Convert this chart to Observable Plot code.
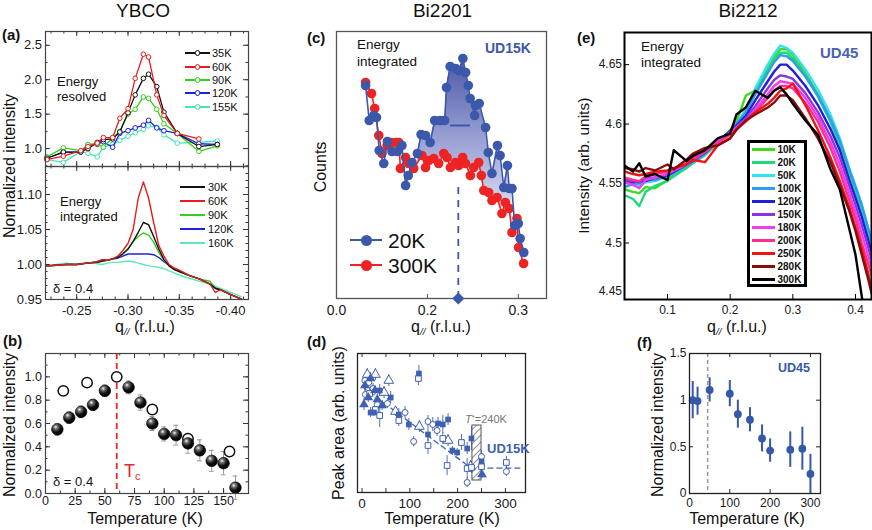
<!DOCTYPE html>
<html><head><meta charset="utf-8">
<script src="https://cdn.jsdelivr.net/npm/d3@7"></script>
<script src="https://cdn.jsdelivr.net/npm/@observablehq/plot@0.6"></script>
<style>
html,body{margin:0;padding:0;background:#fff;}
#fig{position:relative;width:872px;height:530px;overflow:hidden;background:#fff;font-family:'Liberation Sans',Arial,Helvetica,sans-serif;color:#111;}
#fig sub{font-size:0.62em;vertical-align:-0.3em;line-height:0;}
#fig sup{font-size:0.7em;vertical-align:0.35em;line-height:0;}
</style></head><body><div id="fig"></div>
<script>
// ================= DATA =================
// (a) YBCO energy resolved
const aResQ = [-0.221,-0.237,-0.254,-0.261,-0.270,-0.276,-0.285,-0.292,-0.300,-0.307,-0.315,-0.320,-0.328,-0.335,-0.348,-0.369,-0.387];
const aResLabels = ["35K","60K","90K","120K","155K"];
const aResColors = ["#111111","#e81c1c","#33d11f","#1f1fe0","#46e6b4"];
const aRes35K  = [0.86,0.95,0.95,1.00,1.09,1.13,1.14,1.24,1.52,1.78,2.02,2.08,1.90,1.53,1.22,1.03,1.06];
const aRes60K  = [0.84,0.89,0.97,1.03,1.08,1.16,1.16,1.44,1.58,2.02,2.37,2.33,1.78,1.48,1.22,1.14,null];
const aRes90K  = [0.88,1.01,0.97,1.06,1.07,1.02,1.16,1.25,1.50,1.57,1.75,1.73,1.57,1.36,1.22,0.96,1.04];
const aRes120K = [0.86,0.95,0.95,1.05,1.06,1.10,1.02,1.22,1.26,1.30,1.34,1.41,1.30,1.26,1.22,1.07,1.06];
const aRes155K = [0.84,0.80,0.96,0.93,0.88,1.02,1.06,1.12,1.18,1.23,1.28,1.33,1.31,1.20,1.08,1.09,1.11];
const aResValues = [aRes35K,aRes60K,aRes90K,aRes120K,aRes155K];

// (a) YBCO energy integrated
const aIntQ = [-0.221,-0.23,-0.24,-0.25,-0.26,-0.27,-0.275,-0.28,-0.285,-0.29,-0.295,-0.30,-0.305,-0.31,-0.315,-0.32,-0.325,-0.33,-0.335,-0.34,-0.345,-0.35,-0.36,-0.37,-0.38,-0.385,-0.39,-0.40,-0.41];
const aIntLabels = ["30K","60K","90K","120K","160K"];
const aIntColors = ["#111111","#e81c1c","#33d11f","#1f1fe0","#5ee8b8"];
const aInt30K  = [0.998,0.999,1.000,1.000,1.002,1.003,1.005,1.006,1.008,1.010,1.015,1.022,1.033,1.046,1.060,1.057,1.040,1.022,1.007,0.998,0.993,0.990,0.984,0.979,0.972,0.966,0.964,0.957,0.951];
const aInt60K  = [0.998,0.999,1.000,1.000,1.002,1.004,1.007,1.006,1.008,1.012,1.020,1.030,1.050,1.095,1.118,1.095,1.060,1.027,1.012,1.000,0.995,0.992,0.984,0.979,0.972,0.960,0.964,0.957,0.951];
const aInt90K  = [0.998,0.999,1.000,1.000,1.002,1.003,1.005,1.006,1.008,1.010,1.016,1.022,1.033,1.040,1.045,1.042,1.032,1.017,1.006,0.998,0.993,0.990,0.984,0.979,0.976,0.966,0.964,0.957,0.951];
const aInt120K = [0.998,0.999,1.000,1.000,1.002,1.004,1.007,1.006,1.008,1.009,1.012,1.015,1.015,1.015,1.015,1.015,1.014,1.010,1.004,0.999,0.993,0.990,0.984,0.979,0.972,0.966,0.964,0.957,0.951];
const aInt160K = [0.998,1.000,1.002,1.000,1.003,1.001,1.000,1.002,1.003,1.003,1.004,1.005,1.004,1.002,1.000,0.998,0.997,0.996,0.994,0.991,0.988,0.985,0.980,0.976,0.972,0.969,0.966,0.960,0.954];
const aIntValues = [aInt30K,aInt60K,aInt90K,aInt120K,aInt160K];

// (b) YBCO temperature dependence
const bFilledT = [10,20,30,40,50,70,80,90,100,110,120,130,140,150,160];
const bFilledV = [0.55,0.65,0.70,0.76,0.88,0.91,0.78,0.60,0.51,0.50,0.43,0.37,0.28,0.26,0.05];
const bFilledE = [0.05,0.05,0.05,0.045,0.05,0.055,0.065,0.06,0.06,0.085,0.085,0.09,0.09,0.10,0.10];
const bOpenT = [15,35,60,90,120,155];
const bOpenV = [0.88,0.95,1.00,0.72,0.47,0.36];
const bTc = 60;

// (c) Bi2201 energy integrated (counts, arb.)
const cBlueQ = [0.132,0.136,0.141,0.144,0.147,0.152,0.156,0.161,0.167,0.172,0.176,0.179,0.183,0.189,0.193,0.198,0.203,0.208,0.214,0.219,0.221,0.225,0.231,0.235,0.239,0.242,0.245,0.247,0.252,0.253,0.257,0.264,0.267,0.271,0.277,0.280,0.284,0.288,0.290,0.293,0.296,0.300,0.302,0.306];
const cBlueC = [213,178,183,181,148,135,157,147,147,153,113,123,136,145,164,163,156,178,178,178,211,232,230,228,240,226,213,200,183,193,195,171,146,125,153,143,111,133,110,110,73,75,60,46];
const cRedQ = [0.132,0.1385,0.142,0.1465,0.150,0.1557,0.1604,0.1656,0.1685,0.1703,0.176,0.1795,0.185,0.194,0.198,0.2015,0.207,0.2124,0.218,0.2216,0.2253,0.2308,0.2344,0.2388,0.2418,0.2473,0.251,0.2564,0.2593,0.262,0.2674,0.271,0.2766,0.282,0.2857,0.290,0.293,0.2985,0.3003,0.3058];
const cRedC = [216,205,190,163,145,153,156,156,156,130,141,135,130,143,131,138,140,135,145,141,131,136,133,141,135,123,131,136,123,108,106,98,101,85,96,90,66,80,51,35];
const cShadeRange = [0.189, 0.293];
const cFWHM = {q1: 0.2253, q2: 0.2473, c: 173};
const cPeak = {q: 0.234, c: 0, top: 113};
const cTickValues = [0.1, 0.2, 0.3];
const cTickLabels = ["0.0", "0.2", "0.3"];

// (d) Bi2201 peak area vs T  [T, area, error]
const dFilledSq  = [[18,80,5],[25,80,4],[37,102,6],[60,95,6],[77,78,6],[98,68,6],[119,119,8],[138,58,7],[159,69,6],[169,68,9],[180,73,6],[189,42,4],[199,40,4],[220,44,6],[229,54,12],[250,31,6]];
const dOpenSq    = [[16,99,6],[28,83,6],[37,77,12],[77,72,6],[118,114,7],[138,47,9],[169,54,6],[178,27,10],[208,50,8],[220,24,10],[229,25,6],[250,26,7],[302,30,6]];
const dFilledTri = [[4,88,6],[6,107,6],[13,95,5],[18,114,6],[27,102,5],[32,93,5],[42,87,5],[251,18,4]];
const dOpenTri   = [[11,118,6],[28,118,6],[46,100,6],[56,112,6],[70,81,5],[120,66,6],[180,52,6],[227,26,6]];
const dOpenCirc  = [[6,112,6],[7,98,5],[14,110,5],[23,104,5],[32,88,5],[53,89,5],[90,80,6],[108,51,5],[138,71,6],[148,68,7],[157,62,6],[220,10,5],[250,36,6],[302,21,5]];
const dGuide = [[0,106],[228,24.4],[338,24.4]];
const dBand = [231, 250, 12, 67];

// (e) Bi2212 energy integrated
const eQ = [0.032,0.045,0.055,0.065,0.08,0.10,0.11,0.13,0.14,0.16,0.18,0.20,0.21,0.225,0.24,0.26,0.27,0.28,0.29,0.30,0.32,0.34,0.36,0.375,0.39,0.40,0.41,0.42,0.4255];
const eLabels = ["10K","20K","50K","100K","120K","150K","180K","200K","250K","280K","300K"];
const eColors = ["#3ddc1e","#21d97a","#2fe3f0","#2f9bf0","#1e1edc","#8a35e0","#f03cf0","#ff2f8a","#ee1414","#8a0d0d","#000000"];
const e10K  = [4.545,4.543,4.542,4.547,4.546,4.553,4.557,4.563,4.567,4.574,4.584,4.595,4.602,4.624,4.628,4.648,4.656,4.663,4.663,4.658,4.643,4.625,4.604,4.586,4.560,4.545,4.528,4.508,4.497];
const e20K  = [4.540,4.537,4.531,4.543,4.548,4.552,4.556,4.563,4.567,4.574,4.584,4.594,4.600,4.612,4.627,4.645,4.653,4.660,4.660,4.655,4.641,4.623,4.602,4.582,4.558,4.543,4.527,4.507,4.496];
const e50K  = [4.548,4.549,4.548,4.551,4.552,4.556,4.559,4.565,4.568,4.575,4.584,4.594,4.600,4.612,4.630,4.650,4.659,4.666,4.664,4.660,4.646,4.629,4.608,4.588,4.563,4.548,4.532,4.512,4.501];
const e100K = [4.547,4.550,4.550,4.553,4.553,4.556,4.559,4.565,4.568,4.575,4.585,4.594,4.600,4.610,4.625,4.643,4.652,4.658,4.657,4.653,4.640,4.624,4.604,4.586,4.562,4.547,4.532,4.513,4.502];
const e120K = [4.552,4.551,4.552,4.552,4.555,4.557,4.560,4.566,4.569,4.576,4.585,4.594,4.599,4.607,4.620,4.636,4.644,4.650,4.650,4.645,4.632,4.616,4.596,4.578,4.553,4.538,4.522,4.503,4.492];
const e150K = [4.553,4.552,4.551,4.555,4.555,4.558,4.561,4.566,4.569,4.576,4.585,4.593,4.598,4.605,4.615,4.630,4.637,4.641,4.640,4.638,4.626,4.610,4.590,4.572,4.548,4.532,4.515,4.497,4.486];
const e180K = [4.551,4.549,4.546,4.553,4.555,4.558,4.561,4.566,4.570,4.577,4.585,4.593,4.597,4.603,4.612,4.625,4.632,4.636,4.635,4.634,4.622,4.606,4.585,4.566,4.542,4.526,4.508,4.490,4.480];
const e200K = [4.555,4.553,4.552,4.556,4.558,4.560,4.562,4.567,4.571,4.577,4.584,4.591,4.596,4.602,4.610,4.622,4.628,4.632,4.632,4.630,4.618,4.602,4.580,4.560,4.536,4.520,4.500,4.483,4.473];
const e250K = [4.560,4.558,4.557,4.558,4.560,4.561,4.563,4.566,4.570,4.568,4.582,4.588,4.596,4.603,4.610,4.617,4.622,4.628,4.630,4.634,4.616,4.595,4.572,4.552,4.530,4.513,4.495,4.475,4.462];
const e280K = [4.563,4.562,4.560,4.563,4.561,4.566,4.562,4.570,4.575,4.580,4.582,4.588,4.595,4.603,4.608,4.614,4.618,4.624,4.624,4.620,4.605,4.588,4.568,4.548,4.527,4.510,4.490,4.470,4.458];
const e300K = [4.565,4.560,4.567,4.556,4.558,4.553,4.578,4.569,4.573,4.578,4.588,4.592,4.608,4.614,4.628,4.622,4.628,4.631,4.625,4.617,4.603,4.591,4.562,4.545,4.512,4.490,4.455,4.420,4.400];
const eValues = [e10K,e20K,e50K,e100K,e120K,e150K,e180K,e200K,e250K,e280K,e300K];

// (f) Bi2212 normalized intensity vs T
const fT = [8,20,50,100,120,150,180,200,250,280,300];
const fV = [1.00,0.99,1.11,1.07,0.85,0.79,0.59,0.46,0.47,0.48,0.21];
const fE = [0.20,0.15,0.13,0.14,0.15,0.13,0.145,0.125,0.19,0.23,0.21];
const fTc = 45;

// ================= HELPERS =================
const FONT = "'Liberation Sans', Arial, Helvetica, sans-serif";
const fig = document.getElementById("fig");
const SVGNS = "http://www.w3.org/2000/svg";
const BLUE_C = "#3b58ab", RED_C = "#ee2424", BLUE_D = "#3f5fb0", BLUE_F = "#3558a8";

function panel({x0,x1,y0,y1,x,y,ml=42,mr=3,mt=3,mb=24,fs=13,marks,defs}) {
  const W = x1 - x0, H = y1 - y0;
  const svg = Plot.plot({
    width: W + ml + mr, height: H + mt + mb,
    marginLeft: ml, marginRight: mr, marginTop: mt, marginBottom: mb,
    x: Object.assign({label: null}, x), y: Object.assign({label: null}, y),
    style: {background: "none", overflow: "visible", fontFamily: FONT, fontSize: fs + "px", color: "#1a1a1a"},
    marks: marks(W, H)
  });
  if (defs) { const d = document.createElementNS(SVGNS, "defs"); d.innerHTML = defs; svg.insertBefore(d, svg.firstChild); }
  Object.assign(svg.style, {position: "absolute", left: (x0 - ml) + "px", top: (y0 - mt) + "px"});
  fig.appendChild(svg);
  return svg;
}
function inTicks(W, H, {x = [], y = [], len = 4, top = true, right = true, stroke = "#333", sw = 1} = {}) {
  const m = [];
  if (x.length) {
    m.push(Plot.tickX(x, {x: d => d, insetTop: H - len, stroke, strokeWidth: sw}));
    if (top) m.push(Plot.tickX(x, {x: d => d, insetBottom: H - len, stroke, strokeWidth: sw}));
  }
  if (y.length) {
    m.push(Plot.tickY(y, {y: d => d, insetRight: W - len, stroke, strokeWidth: sw}));
    if (right) m.push(Plot.tickY(y, {y: d => d, insetLeft: W - len, stroke, strokeWidth: sw}));
  }
  return m;
}
function label(html, x, cy, {size = 16, anchor = "middle", weight = "normal", color = "#111", rotate = false, style = ""} = {}) {
  const d = document.createElement("div");
  d.innerHTML = html;
  d.style.cssText = `position:absolute;white-space:nowrap;line-height:1;font-size:${size}px;font-weight:${weight};color:${color};${style}`;
  d.style.left = x + "px";
  if (rotate) { d.style.top = (cy - size / 2) + "px"; d.style.transform = "translateX(-50%) rotate(-90deg)"; d.style.transformOrigin = "50% 50%"; }
  else {
    d.style.top = (cy - 0.5 * size) + "px";
    d.style.transform = anchor === "middle" ? "translateX(-50%)" : anchor === "end" ? "translateX(-100%)" : "";
  }
  fig.appendChild(d);
}
function hline(x1, x2, cy, color, w) {
  const d = document.createElement("div");
  d.style.cssText = `position:absolute;left:${x1}px;top:${cy - w / 2}px;width:${x2 - x1}px;height:${w}px;background:${color};`;
  fig.appendChild(d);
}
function circle(cx, cy, r, color, fill, bw) {
  const d = document.createElement("div");
  d.style.cssText = `position:absolute;left:${cx - r}px;top:${cy - r}px;width:${2 * r}px;height:${2 * r}px;border-radius:50%;box-sizing:border-box;background:${fill};border:${bw}px solid ${color};`;
  fig.appendChild(d);
}
const rng = (a, b, s) => d3.range(Math.round(Math.abs(b - a) / Math.abs(s)) + 1).map(i => +(a + i * s).toFixed(6));

// ================= PANEL (a) top =================
panel({
  x0: 45, x1: 248, y0: 31, y1: 166, ml: 42, mr: 3, mt: 3, mb: 1,
  x: {domain: [-0.2196, -0.4174], axis: null},
  y: {domain: [0.74, 2.70], ticks: [1, 1.5, 2, 2.5], tickFormat: d => d.toFixed(1), tickSize: 0, tickPadding: 3.5},
  marks: (W, H) => [
    ...inTicks(W, H, {x: rng(-0.225, -0.4125, -0.0125), y: rng(0.75, 2.5, 0.25), len: 2.5}),
    ...inTicks(W, H, {x: rng(-0.25, -0.40, -0.05), y: [1, 1.5, 2, 2.5], len: 5}),
    ...[4, 3, 2, 0, 1].flatMap(i => {
      const data = aResQ.map((q, j) => ({q, v: aResValues[i][j]})).filter(d => d.v != null);
      return [
        Plot.line(data, {x: "q", y: "v", stroke: aResColors[i], strokeWidth: 1.3}),
        Plot.dot(data, {x: "q", y: "v", r: 2.3, stroke: aResColors[i], fill: "white", strokeWidth: 1})
      ];
    }),
    Plot.frame({stroke: "#444", strokeWidth: 1.2})
  ]
});

// ================= PANEL (a) bottom =================
panel({
  x0: 45, x1: 248, y0: 166, y1: 299, ml: 42, mr: 3, mt: 1, mb: 24,
  x: {domain: [-0.2196, -0.4174], ticks: [-0.25, -0.30, -0.35, -0.40], tickFormat: d => d.toFixed(2), tickSize: 0, tickPadding: 6},
  y: {domain: [0.95, 1.14], ticks: [0.95, 1.00, 1.05, 1.10], tickFormat: d => d.toFixed(2), tickSize: 0, tickPadding: 3.5},
  marks: (W, H) => [
    ...inTicks(W, H, {x: rng(-0.225, -0.4125, -0.0125), y: rng(0.96, 1.13, 0.01), len: 2.5}),
    ...inTicks(W, H, {x: rng(-0.25, -0.40, -0.05), y: [1.00, 1.05, 1.10], len: 5}),
    ...[4, 3, 2, 0, 1].map(i => Plot.line(aIntQ.map((q, j) => ({q, v: aIntValues[i][j]})),
      {x: "q", y: "v", stroke: aIntColors[i], strokeWidth: 1.4, clip: true})),
    Plot.frame({stroke: "#444", strokeWidth: 1.2})
  ]
});

// ================= PANEL (b) =================
const bFilled = bFilledT.map((T, i) => ({T, v: bFilledV[i], e: bFilledE[i]}));
const bOpen = bOpenT.map((T, i) => ({T, v: bOpenV[i]}));
panel({
  x0: 45, x1: 248, y0: 353, y1: 493, ml: 42, mr: 3, mt: 3, mb: 24, fs: 12.5,
  x: {domain: [0, 171], ticks: rng(0, 150, 25), tickSize: 0, tickPadding: 3},
  y: {domain: [0, 1.2], ticks: rng(0, 1.0, 0.2), tickFormat: d => d.toFixed(1), tickSize: 0, tickPadding: 3.5},
  defs: `<radialGradient id="sphere" cx="0.36" cy="0.3" r="0.72"><stop offset="0" stop-color="#ffffff"/><stop offset="0.22" stop-color="#777"/><stop offset="0.6" stop-color="#111"/><stop offset="1" stop-color="#000"/></radialGradient>`,
  marks: (W, H) => [
    ...inTicks(W, H, {x: rng(0, 162.5, 12.5), y: rng(0, 1.1, 0.1), len: 2.5}),
    ...inTicks(W, H, {x: rng(0, 150, 25), y: rng(0, 1.0, 0.2), len: 5}),
    Plot.ruleX([bTc], {x: d => d, stroke: "#e8262b", strokeWidth: 1.8, strokeDasharray: "6,4"}),
    Plot.ruleX(bFilled, {x: "T", y1: d => d.v - d.e, y2: d => d.v + d.e, stroke: "#999", strokeWidth: 1}),
    Plot.ruleY(bFilled, {y: d => d.v + d.e, x1: d => d.T - 2, x2: d => d.T + 2, stroke: "#999", strokeWidth: 1}),
    Plot.ruleY(bFilled, {y: d => d.v - d.e, x1: d => d.T - 2, x2: d => d.T + 2, stroke: "#999", strokeWidth: 1}),
    Plot.dot(bOpen, {x: "T", y: "v", r: 5.2, stroke: "#111", strokeWidth: 1.5, fill: "white"}),
    Plot.dot(bFilled, {x: "T", y: "v", r: 5.8, fill: "url(#sphere)", stroke: "#000", strokeWidth: 0.6}),
    Plot.frame({stroke: "#444", strokeWidth: 1.2})
  ]
});

// ================= PANEL (c) =================
const cBlue = cBlueQ.map((q, i) => ({q, c: cBlueC[i]}));
const cRed = cRedQ.map((q, i) => ({q, c: cRedC[i]}));
const redAt = d3.scaleLinear(cRedQ, cRedC);
const cShade = cBlue.filter(d => d.q >= cShadeRange[0] && d.q <= cShadeRange[1]).map(d => ({q: d.q, top: d.c, base: Math.min(d.c, redAt(d.q))}));
panel({
  x0: 336, x1: 546, y0: 31, y1: 298, ml: 4, mr: 3, mt: 3, mb: 24, fs: 14,
  x: {domain: [0.1, 0.331], ticks: cTickValues, tickFormat: d => cTickLabels[cTickValues.indexOf(d)], tickSize: 0, tickPadding: 7},
  y: {domain: [0, 267], axis: null},
  defs: `<linearGradient id="gradC" x1="0" y1="0" x2="0" y2="1"><stop offset="0" stop-color="#4c58a8"/><stop offset="0.5" stop-color="#9fa6d6"/><stop offset="1" stop-color="#eeeff9"/></linearGradient>`,
  marks: (W, H) => [
    ...inTicks(W, H, {x: cTickValues, len: 4, top: false, stroke: "#555"}),
    Plot.areaY(cShade, {x: "q", y1: "base", y2: "top", fill: "url(#gradC)"}),
    Plot.ruleX([cPeak], {x: "q", y1: "c", y2: "top", stroke: BLUE_C, strokeWidth: 1.8, strokeDasharray: "7,6"}),
    Plot.line(cRed, {x: "q", y: "c", stroke: RED_C, strokeWidth: 1.6}),
    Plot.dot(cRed, {x: "q", y: "c", r: 4.8, fill: RED_C}),
    Plot.line(cBlue, {x: "q", y: "c", stroke: BLUE_C, strokeWidth: 1.6}),
    Plot.dot(cBlue, {x: "q", y: "c", r: 4.8, fill: BLUE_C}),
    Plot.ruleY([cFWHM], {y: "c", x1: "q1", x2: "q2", stroke: BLUE_C, strokeWidth: 2}),
    Plot.frame({stroke: "#555", strokeWidth: 1.3}),
    Plot.dot([cPeak], {x: "q", y: "c", symbol: "diamond2", r: 5.5, fill: BLUE_C})
  ]
});

// ================= PANEL (d) =================
const dAll = [...dFilledSq, ...dOpenSq, ...dFilledTri, ...dOpenTri, ...dOpenCirc];
const px = {x: d => d[0], y: d => d[1]};
panel({
  x0: 357, x1: 525, y0: 353, y1: 492, ml: 4, mr: 3, mt: 3, mb: 24, fs: 13.5,
  x: {domain: [-9.5, 342], ticks: [0, 100, 200, 300], tickSize: 0, tickPadding: 6},
  y: {domain: [0, 139], axis: null},
  defs: `<pattern id="hatch" patternUnits="userSpaceOnUse" width="5" height="5" patternTransform="rotate(45)"><rect width="5" height="5" fill="white"/><line x1="0" y1="0" x2="0" y2="5" stroke="#555" stroke-width="1.3"/></pattern>`,
  marks: (W, H) => [
    ...inTicks(W, H, {x: rng(0, 300, 50), len: 4}),
    Plot.line(dGuide, {x: d => d[0], y: d => d[1], stroke: BLUE_D, strokeWidth: 1.3, strokeDasharray: "5,4"}),
    Plot.rect([dBand], {x1: d => d[0], x2: d => d[1], y1: d => d[2], y2: d => d[3], fill: "url(#hatch)", stroke: "#555", strokeWidth: 1}),
    Plot.ruleX(dAll, {x: d => d[0], y1: d => d[1] - d[2], y2: d => d[1] + d[2], stroke: BLUE_D, strokeWidth: 0.9}),
    Plot.dot(dOpenCirc, {...px, r: 3, stroke: BLUE_D, fill: "white", strokeWidth: 1}),
    Plot.dot(dOpenTri, {...px, symbol: "triangle", r: 3.6, stroke: BLUE_D, fill: "white", strokeWidth: 1}),
    Plot.dot(dOpenSq, {...px, symbol: "square", r: 3.2, stroke: BLUE_D, fill: "white", strokeWidth: 1}),
    Plot.dot(dFilledTri, {...px, symbol: "triangle", r: 3.6, fill: BLUE_D}),
    Plot.dot(dFilledSq, {...px, symbol: "square", r: 3.2, fill: BLUE_D}),
    Plot.frame({stroke: "#222", strokeWidth: 1.3})
  ]
});

// ================= PANEL (e) =================
panel({
  x0: 624, x1: 871, y0: 32, y1: 299, ml: 42, mr: 1, mt: 3, mb: 24, fs: 12,
  x: {domain: [0.0314, 0.4255], ticks: [0.1, 0.2, 0.3, 0.4], tickFormat: d => String(d), tickSize: 0, tickPadding: 6},
  y: {domain: [4.4525, 4.677], ticks: [4.5, 4.55, 4.6, 4.65], tickFormat: d => String(d), tickSize: 0, tickPadding: 2.5},
  marks: (W, H) => [
    ...inTicks(W, H, {x: [0.1, 0.2, 0.3, 0.4], y: [4.5, 4.55, 4.6, 4.65], len: 5, top: false, right: false, stroke: "#000"}),
    ...eLabels.map((lab, i) => Plot.line(eQ.map((q, j) => ({q, v: eValues[i][j]})),
      {x: "q", y: "v", stroke: eColors[i], strokeWidth: 2.4, clip: true})),
    Plot.text([4.45], {y: d => d, text: d => String(d), frameAnchor: "left", textAnchor: "end", dx: -2.5, dy: -11}),
    Plot.frame({stroke: "#000", strokeWidth: 2})
  ]
});

// ================= PANEL (f) =================
const fData = fT.map((T, i) => ({T, v: fV[i], e: fE[i]}));
panel({
  x0: 689, x1: 820, y0: 353, y1: 493, ml: 30, mr: 3, mt: 3, mb: 24, fs: 12,
  x: {domain: [0, 325], ticks: [0, 100, 200, 300], tickSize: 0, tickPadding: 4.5},
  y: {domain: [0, 1.5], ticks: [0, 0.5, 1, 1.5], tickFormat: d => String(d), tickSize: 0, tickPadding: 3},
  marks: (W, H) => [
    ...inTicks(W, H, {x: [100, 200, 300], y: [0.5, 1], len: 4, stroke: "#222"}),
    Plot.ruleX([fTc], {x: d => d, stroke: "#9a9a9a", strokeWidth: 1.5, strokeDasharray: "4,3"}),
    Plot.ruleX(fData, {x: "T", y1: d => d.v - d.e, y2: d => d.v + d.e, stroke: BLUE_F, strokeWidth: 2}),
    Plot.dot(fData, {x: "T", y: "v", r: 3.9, fill: BLUE_F}),
    Plot.frame({stroke: "#222", strokeWidth: 1.3})
  ]
});

// ================= TEXT & LEGENDS =================
const Q = "q<sub><i>//</i></sub> (r.l.u.)";
label("YBCO", 143, 10, {size: 19});
label("Bi2201", 442.5, 10, {size: 19});
label("Bi2212", 748, 10, {size: 19});
label("(a)", 2, 34, {size: 15, anchor: "start", weight: "bold"});
label("(b)", 3, 340, {size: 15, anchor: "start", weight: "bold"});
label("(c)", 307, 37.5, {size: 15, anchor: "start", weight: "bold"});
label("(d)", 307, 341, {size: 15, anchor: "start", weight: "bold"});
label("(e)", 577, 37.5, {size: 15, anchor: "start", weight: "bold"});
label("(f)", 637, 342, {size: 15, anchor: "start", weight: "bold"});

label("Normalized intensity", 10, 166, {size: 16, rotate: true});
label(Q, 145, 327, {size: 16});
label("Normalized intensity", 10, 425, {size: 16, rotate: true});
label("Temperature (K)", 145, 519, {size: 16});
label("Counts", 321, 167, {size: 16, rotate: true});
label(Q, 441, 327, {size: 16});
label("Peak area (arb. units)", 339, 423, {size: 16, rotate: true});
label("Temperature (K)", 442, 519, {size: 16});
label("Intensity (arb. units)", 584, 166, {size: 15.5, rotate: true});
label(Q, 737, 327, {size: 16});
label("Normalized intensity", 658, 425, {size: 16, rotate: true});
label("Temperature (K)", 747, 519, {size: 16});

// panel a annotations
label("Energy", 57, 81, {size: 13, anchor: "start"});
label("resolved", 57, 96.5, {size: 13, anchor: "start"});
label("Energy", 60, 201, {size: 13, anchor: "start"});
label("integrated", 60, 216, {size: 13, anchor: "start"});
label("δ = 0.4", 53, 288, {size: 13, anchor: "start"});
[53, 67, 80, 93, 107].forEach((cy, i) => {
  hline(185, 210, cy, aResColors[i], 1.3);
  circle(197.5, cy, 2.6, aResColors[i], "white", 1);
  label(aResLabels[i], 212, cy, {size: 11, anchor: "start"});
});
[187, 201, 215, 229, 243].forEach((cy, i) => {
  hline(180, 205, cy, aIntColors[i], 1.5);
  label(aIntLabels[i], 208, cy, {size: 11, anchor: "start"});
});
// panel b annotations
label("δ = 0.4", 53, 481, {size: 13, anchor: "start"});
label("T<sub>c</sub>", 124, 471, {size: 18, anchor: "start", color: "#e8262b"});
// panel c annotations
label("Energy", 357, 45, {size: 13.5, anchor: "start"});
label("integrated", 357, 62, {size: 13.5, anchor: "start"});
label("UD15K", 485, 47.5, {size: 14, anchor: "start", weight: "bold", color: BLUE_C});
[[240, BLUE_C, "20K"], [265, RED_C, "300K"]].forEach(([cy, col, t]) => {
  hline(350, 382, cy, col, 2);
  circle(366, cy, 5.5, col, col, 0);
  label(t, 388, cy, {size: 21, anchor: "start"});
});
// panel d annotations
label("<i>T</i><sup>*</sup>=240K", 465, 419, {size: 11, anchor: "start", color: "#777"});
label("UD15K", 487, 448, {size: 13, anchor: "start", weight: "bold", color: BLUE_D});
// panel e annotations
label("Energy", 641, 47, {size: 13.5, anchor: "start"});
label("integrated", 641, 62.5, {size: 13.5, anchor: "start"});
label("UD45", 820, 52.5, {size: 15, anchor: "start", weight: "bold", color: "#4a62b0"});
{
  const box = document.createElement("div");
  box.style.cssText = "position:absolute;left:747px;top:140px;width:60px;height:147px;box-sizing:border-box;border:3px solid #000;background:#fff;";
  fig.appendChild(box);
  eLabels.forEach((t, i) => {
    const cy = 149.5 + i * 13;
    hline(752, 775, cy, eColors[i], 2.6);
    label(t, 777.5, cy, {size: 10, anchor: "start", weight: "bold"});
  });
}
// panel f annotations
label("UD45", 778, 368, {size: 12.5, anchor: "start", weight: "bold", color: BLUE_F});
</script></body></html>
